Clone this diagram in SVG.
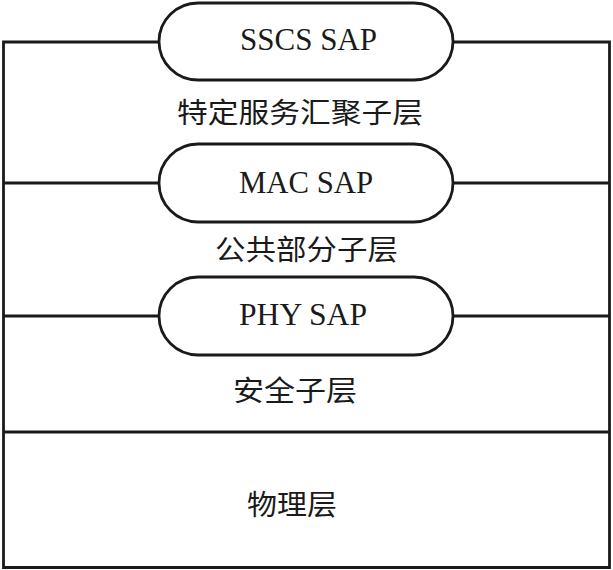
<svg xmlns="http://www.w3.org/2000/svg" width="613" height="570" viewBox="0 0 613 570">
<style>
.ln{fill:none;stroke:#1a1a1a;stroke-width:2.8}
.pill{fill:#ffffff;stroke:#1a1a1a;stroke-width:2.8}
.en{font-family:"Liberation Serif","Times New Roman",serif;font-size:31px;fill:#1a1a1a}
.zh{font-family:"Noto Sans CJK SC","Noto Sans CJK JP",sans-serif;font-size:28px;fill:#1a1a1a}
</style>
<rect width="613" height="570" fill="#ffffff"/>
<g id="connectors">
<polyline class="ln" points="159,42 3.5,42 3.5,567.5 609.5,567.5 609.5,42 453,42"/>
<line class="ln" x1="3.5" y1="183" x2="159" y2="183"/>
<line class="ln" x1="453" y1="183" x2="609.5" y2="183"/>
<line class="ln" x1="3.5" y1="316" x2="159" y2="316"/>
<line class="ln" x1="453" y1="316" x2="609.5" y2="316"/>
<line class="ln" x1="3.5" y1="432" x2="609.5" y2="432"/>
</g>
<g id="sscs-sap">
<rect class="pill" x="159" y="3" width="294" height="77" rx="39" ry="38.5"/>
<text class="en" x="240" y="50" textLength="137" lengthAdjust="spacingAndGlyphs">SSCS SAP</text>
</g>
<g id="ssc-layer">
<text class="zh" x="177" y="123" textLength="246" lengthAdjust="spacingAndGlyphs">特定服务汇聚子层</text>
</g>
<g id="mac-sap">
<rect class="pill" x="159" y="144" width="294" height="78" rx="39" ry="39"/>
<text class="en" x="239" y="193" textLength="134" lengthAdjust="spacingAndGlyphs">MAC SAP</text>
</g>
<g id="cps-layer">
<text class="zh" x="215" y="260" textLength="183" lengthAdjust="spacingAndGlyphs">公共部分子层</text>
</g>
<g id="phy-sap">
<rect class="pill" x="159" y="277" width="294" height="78" rx="39" ry="39"/>
<text class="en" x="239" y="325" textLength="128" lengthAdjust="spacingAndGlyphs">PHY SAP</text>
</g>
<g id="security-layer">
<text class="zh" x="233" y="401" textLength="124" lengthAdjust="spacingAndGlyphs">安全子层</text>
</g>
<g id="physical-layer">
<text class="zh" x="247" y="515" textLength="90" lengthAdjust="spacingAndGlyphs">物理层</text>
</g>
</svg>
